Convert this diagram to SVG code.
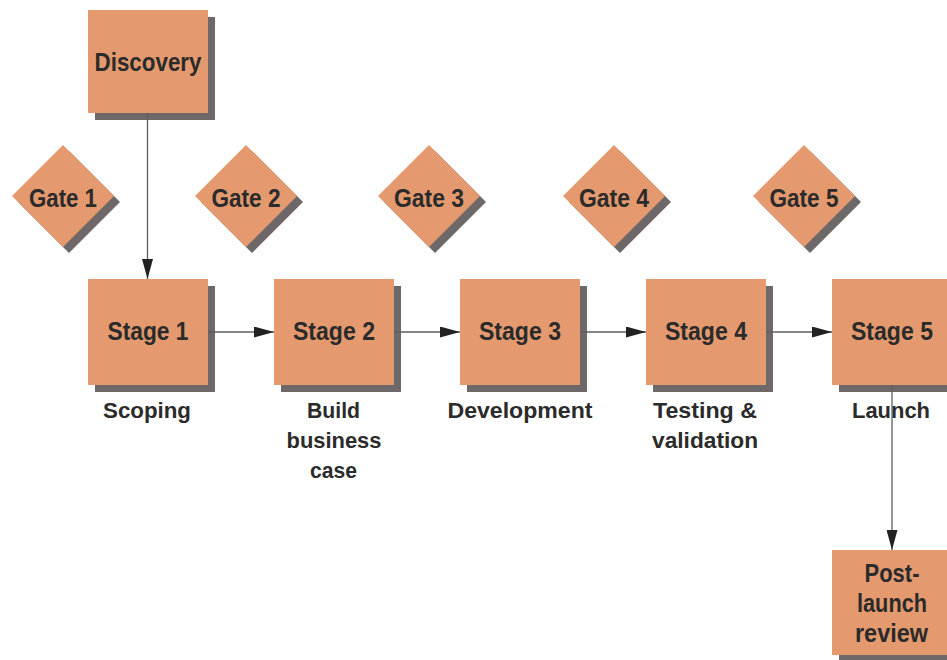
<svg xmlns="http://www.w3.org/2000/svg" width="947" height="660" viewBox="0 0 947 660">
<defs>
<style>
.box{fill:#E49A6E}
.sh{fill:#6f6868}
.t{font-family:"Liberation Sans",Arial,sans-serif;font-weight:bold;fill:#2b2b2b;text-anchor:middle}
.big{font-size:26px}
.lab{font-size:22px}
.ln{stroke:#5e5e5e;stroke-width:1.3;fill:none}
</style>
<marker id="ah" markerUnits="userSpaceOnUse" markerWidth="20" markerHeight="11" refX="20" refY="5.5" orient="auto">
<path d="M0,0 L20,5.5 L0,11 z" fill="#222"/>
</marker>
<polygon id="dia" points="0,-51 51,0 0,51 -51,0"/>
</defs>
<rect width="947" height="660" fill="#fff"/>

<g id="discovery">
<rect class="sh" x="95" y="17" width="120" height="103"/>
<rect class="box" x="88" y="10" width="120" height="103"/>
<text class="t big" x="148" y="71" textLength="107" lengthAdjust="spacingAndGlyphs">Discovery</text>
</g>

<g id="gate1">
<use href="#dia" class="sh" x="69" y="202"/>
<use href="#dia" class="box" x="63" y="196"/>
<text class="t big" x="63" y="207" textLength="68" lengthAdjust="spacingAndGlyphs">Gate 1</text>
</g>
<g id="gate2">
<use href="#dia" class="sh" x="252" y="202"/>
<use href="#dia" class="box" x="246" y="196"/>
<text class="t big" x="246" y="207" textLength="69" lengthAdjust="spacingAndGlyphs">Gate 2</text>
</g>
<g id="gate3">
<use href="#dia" class="sh" x="435" y="202"/>
<use href="#dia" class="box" x="429" y="196"/>
<text class="t big" x="429" y="207" textLength="70" lengthAdjust="spacingAndGlyphs">Gate 3</text>
</g>
<g id="gate4">
<use href="#dia" class="sh" x="620" y="202"/>
<use href="#dia" class="box" x="614" y="196"/>
<text class="t big" x="614" y="207" textLength="70" lengthAdjust="spacingAndGlyphs">Gate 4</text>
</g>
<g id="gate5">
<use href="#dia" class="sh" x="810" y="202"/>
<use href="#dia" class="box" x="804" y="196"/>
<text class="t big" x="804" y="207" textLength="69" lengthAdjust="spacingAndGlyphs">Gate 5</text>
</g>

<g id="stage1">
<rect class="sh" x="95" y="286" width="120" height="106"/>
<rect class="box" x="88" y="279" width="120" height="106"/>
<text class="t big" x="148" y="340" textLength="81" lengthAdjust="spacingAndGlyphs">Stage 1</text>
<text class="t lab" x="147" y="418" textLength="88" lengthAdjust="spacingAndGlyphs">Scoping</text>
</g>
<g id="stage2">
<rect class="sh" x="281" y="286" width="120" height="106"/>
<rect class="box" x="274" y="279" width="120" height="106"/>
<text class="t big" x="334" y="340" textLength="82" lengthAdjust="spacingAndGlyphs">Stage 2</text>
<text class="t lab" x="333.5" y="418" textLength="53" lengthAdjust="spacingAndGlyphs">Build</text>
<text class="t lab" x="334" y="448" textLength="95" lengthAdjust="spacingAndGlyphs">business</text>
<text class="t lab" x="333.5" y="478" textLength="47" lengthAdjust="spacingAndGlyphs">case</text>
</g>
<g id="stage3">
<rect class="sh" x="467" y="286" width="120" height="106"/>
<rect class="box" x="460" y="279" width="120" height="106"/>
<text class="t big" x="520" y="340" textLength="82" lengthAdjust="spacingAndGlyphs">Stage 3</text>
<text class="t lab" x="520" y="418" textLength="145" lengthAdjust="spacingAndGlyphs">Development</text>
</g>
<g id="stage4">
<rect class="sh" x="653" y="286" width="120" height="106"/>
<rect class="box" x="646" y="279" width="120" height="106"/>
<text class="t big" x="706" y="340" textLength="82" lengthAdjust="spacingAndGlyphs">Stage 4</text>
<text class="t lab" x="705" y="418" textLength="104" lengthAdjust="spacingAndGlyphs">Testing &amp;</text>
<text class="t lab" x="705" y="448" textLength="106" lengthAdjust="spacingAndGlyphs">validation</text>
</g>
<g id="stage5">
<rect class="sh" x="839" y="286" width="120" height="106"/>
<rect class="box" x="832" y="279" width="120" height="106"/>
<text class="t big" x="892" y="340" textLength="82" lengthAdjust="spacingAndGlyphs">Stage 5</text>
<text class="t lab" x="891" y="418" textLength="78" lengthAdjust="spacingAndGlyphs">Launch</text>
</g>
<g id="postlaunch">
<rect class="sh" x="839" y="557" width="120" height="105"/>
<rect class="box" x="832" y="550" width="120" height="105"/>
<text class="t big" x="892" y="582" textLength="55" lengthAdjust="spacingAndGlyphs">Post-</text>
<text class="t big" x="892" y="612" textLength="70" lengthAdjust="spacingAndGlyphs">launch</text>
<text class="t big" x="891.5" y="642" textLength="73" lengthAdjust="spacingAndGlyphs">review</text>
</g>

<g id="connectors">
<line class="ln" x1="147.5" y1="113" x2="147.5" y2="279" marker-end="url(#ah)"/>
<line class="ln" x1="208" y1="332" x2="274" y2="332" marker-end="url(#ah)"/>
<line class="ln" x1="394" y1="332" x2="460" y2="332" marker-end="url(#ah)"/>
<line class="ln" x1="580" y1="332" x2="646" y2="332" marker-end="url(#ah)"/>
<line class="ln" x1="766" y1="332" x2="832" y2="332" marker-end="url(#ah)"/>
<line class="ln" x1="892" y1="385" x2="892" y2="550" marker-end="url(#ah)"/>
</g>
</svg>
